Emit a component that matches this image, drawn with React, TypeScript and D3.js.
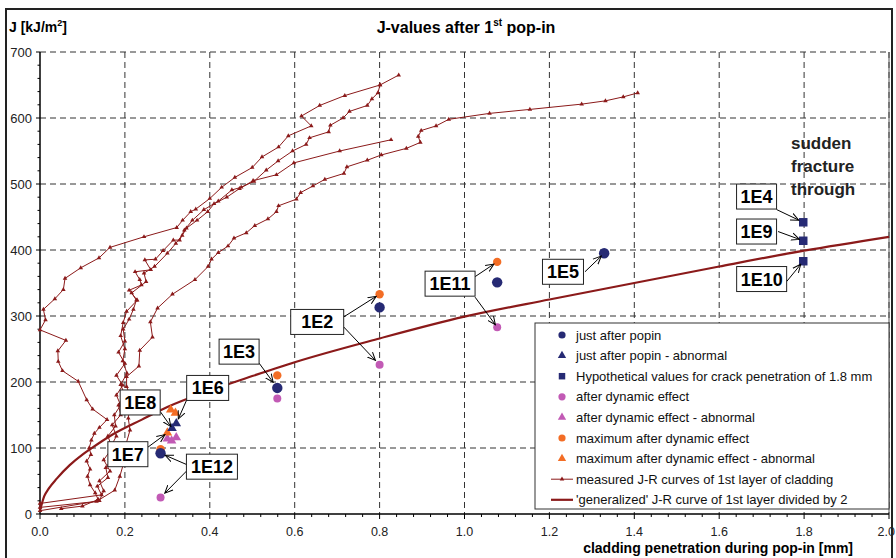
import React from "react";
import * as d3 from "d3";

const W = 896;
const H = 558;

// measured J-R curves of 1st layer of cladding: [penetration mm, J kJ/m2]
const jrCurveA: [number, number][] = [
  [0.05, 8], [0.1, 12], [0.137, 22], [0.13, 32], [0.118, 44], [0.112, 57], [0.118, 68], [0.11, 80],
  [0.12, 90], [0.116, 100], [0.121, 112], [0.128, 122], [0.14, 131], [0.158, 143], [0.124, 159],
  [0.11, 173], [0.09, 201], [0.053, 217], [0.043, 231], [0.042, 247], [0.061, 263], [0, 279],
  [0.013, 294], [0.008, 310], [0.035, 326], [0.055, 340], [0.059, 357], [0.096, 373], [0.139, 388],
  [0.165, 404], [0.245, 420], [0.322, 434], [0.336, 445], [0.355, 458], [0.367, 462], [0.4, 478],
  [0.428, 495], [0.459, 510], [0.5, 525], [0.523, 541], [0.562, 556], [0.585, 573], [0.639, 588],
  [0.616, 603], [0.659, 619], [0.718, 634], [0.801, 650], [0.845, 665],
];
const jrCurveB: [number, number][] = [
  [0, 16], [0.145, 29], [0.135, 42], [0.16, 55], [0.155, 70], [0.17, 85], [0.165, 100], [0.18, 118],
  [0.17, 135], [0.19, 150], [0.185, 165], [0.2, 180], [0.19, 196], [0.205, 213], [0.195, 232],
  [0.2, 250], [0.19, 270], [0.196, 290], [0.204, 307], [0.229, 324], [0.21, 339], [0.239, 347],
  [0.235, 355], [0.224, 367], [0.261, 370], [0.247, 385], [0.272, 386], [0.29, 399], [0.314, 415],
  [0.329, 415], [0.34, 430], [0.359, 445], [0.386, 461], [0.42, 474], [0.452, 491], [0.474, 495],
  [0.504, 504], [0.533, 521], [0.561, 535], [0.595, 550], [0.627, 560], [0.635, 570], [0.68, 579],
  [0.684, 589], [0.714, 600], [0.729, 610], [0.771, 619], [0.782, 629], [0.796, 638], [0.801, 650],
];
const jrCurveC: [number, number][] = [
  [0, 5], [0.14, 20], [0.15, 35], [0.14, 50], [0.165, 65], [0.15, 82], [0.17, 100], [0.16, 118],
  [0.178, 133], [0.175, 150], [0.19, 165], [0.18, 180], [0.195, 195], [0.18, 210], [0.2, 228],
  [0.185, 245], [0.2, 262], [0.196, 280], [0.21, 295], [0.22, 310], [0.227, 324], [0.216, 335],
  [0.25, 352], [0.245, 365], [0.27, 375], [0.3, 395], [0.32, 410], [0.335, 422], [0.345, 433],
  [0.37, 445], [0.395, 458], [0.41, 470], [0.44, 480], [0.47, 493], [0.502, 505], [0.557, 514],
  [0.598, 532], [0.706, 550], [0.827, 567],
];
const jrCurveD: [number, number][] = [
  [0, 10], [0.133, 19], [0.176, 36], [0.188, 57], [0.198, 79], [0.2, 100], [0.212, 127], [0.208, 145],
  [0.212, 165], [0.212, 180], [0.204, 193], [0.204, 208], [0.233, 224], [0.235, 248], [0.265, 268],
  [0.26, 291], [0.277, 312], [0.312, 333], [0.365, 355], [0.396, 375], [0.404, 386], [0.42, 396],
  [0.443, 406], [0.457, 418], [0.486, 426], [0.506, 437], [0.537, 447], [0.557, 458], [0.562, 467],
  [0.604, 477], [0.614, 487], [0.643, 497], [0.671, 507], [0.716, 516], [0.723, 526], [0.771, 536],
  [0.804, 544], [0.863, 554], [0.896, 563], [0.891, 572], [0.898, 581], [0.933, 588], [0.963, 598],
  [1.059, 607], [1.154, 613], [1.276, 621], [1.332, 626], [1.374, 632], [1.408, 638],
];
const measuredCurves = [jrCurveA, jrCurveB, jrCurveC, jrCurveD];

// 'generalized' J-R curve of 1st layer divided by 2
const generalizedJR: [number, number][] = [
  [0, 5], [0.01, 27], [0.02, 38], [0.04, 54], [0.07, 74], [0.1, 90], [0.12, 99], [0.17, 120],
  [0.24, 143], [0.3, 162], [0.4, 187], [0.5, 209], [0.6, 230], [0.8, 266], [1.0, 299], [1.2, 325],
  [1.4, 350], [1.6, 375], [1.8, 399], [2.0, 420],
];

// test results
const justAfterPopin: [number, number][] = [[0.284, 92], [0.559, 191], [0.8, 313], [1.077, 351], [1.329, 395]];
const justAfterPopinAbn: [number, number][] = [[0.311, 130], [0.321, 137]];
const hypothetical: [number, number][] = [[1.798, 442], [1.798, 414], [1.798, 383]];
const afterDynamic: [number, number][] = [[0.284, 25], [0.559, 175], [0.8, 226], [1.077, 283]];
const afterDynamicAbn: [number, number][] = [[0.3, 114], [0.31, 111], [0.321, 116]];
const maxAfterDynamic: [number, number][] = [[0.284, 98], [0.559, 210], [0.8, 333], [1.077, 382]];
const maxAfterDynamicAbn: [number, number][] = [[0.3, 123], [0.308, 158], [0.319, 153]];

const xTicks = [0, 0.2, 0.4, 0.6, 0.8, 1.0, 1.2, 1.4, 1.6, 1.8, 2.0];
const yTicks = [0, 100, 200, 300, 400, 500, 600, 700];

const NAVY = "#262a74";
const PINK = "#c25ab5";
const ORANGE = "#f36d25";
const RED = "#8b1a1a";
const FONT = "Arial, 'Liberation Sans', sans-serif";

// specimen labels: box centre in data units, arrows from box (px offset) to a data point
const labels = [
  { name: "1E12", at: [0.405, 71.7], w: 51, arrows: [{ from: [-25, -2], to: [0.284, 92], gap: 5 }, { from: [-25, 4], to: [0.284, 25], gap: 6 }] },
  { name: "1E7", at: [0.207, 90.6], w: 40, arrows: [{ from: [20, -7], to: [0.3, 123], gap: 3 }] },
  { name: "1E8", at: [0.236, 169], w: 40, arrows: [{ from: [20, 9], to: [0.311, 130], gap: 2 }] },
  { name: "1E6", at: [0.395, 191], w: 42, arrows: [{ from: [-21, 12], to: [0.321, 137], gap: 5 }] },
  { name: "1E3", at: [0.469, 246], w: 40, arrows: [{ from: [20, 11.5], to: [0.559, 191], gap: 7 }] },
  { name: "1E2", at: [0.653, 291], w: 53, arrows: [{ from: [26.5, -5], to: [0.8, 333], gap: 4 }, { from: [26.5, 5], to: [0.8, 226], gap: 6 }] },
  { name: "1E11", at: [0.966, 349], w: 50, arrows: [{ from: [25, -7], to: [1.077, 382], gap: 4 }, { from: [25, 13.5], to: [1.077, 283], gap: 3 }] },
  { name: "1E5", at: [1.232, 367], w: 41, arrows: [{ from: [22, 0], to: [1.329, 395], gap: 4 }] },
  { name: "1E4", at: [1.688, 481], w: 40, arrows: [{ from: [20, 13], to: [1.798, 442], gap: 5 }] },
  { name: "1E9", at: [1.688, 428], w: 40, arrows: [{ from: [21.5, 0], to: [1.798, 414], gap: 4 }] },
  { name: "1E10", at: [1.7, 356], w: 50, arrows: [{ from: [25, 2.5], to: [1.798, 383], gap: 4 }] },
];

const legendItems = [
  { label: "just after popin", kind: "circle", color: NAVY },
  { label: "just after popin - abnormal", kind: "triangle", color: NAVY },
  { label: "Hypothetical values for crack penetration of 1.8 mm", kind: "square", color: NAVY },
  { label: "after dynamic effect", kind: "circle", color: PINK },
  { label: "after dynamic effect - abnormal", kind: "triangle", color: PINK },
  { label: "maximum after dynamic effect", kind: "circle", color: ORANGE },
  { label: "maximum after dynamic effect - abnormal", kind: "triangle", color: ORANGE },
  { label: "measured J-R curves of 1st layer of cladding", kind: "measured", color: RED },
  { label: "'generalized' J-R curve of 1st layer divided by 2", kind: "generalized", color: RED },
];

export default function App() {
  const x = d3.scaleLinear().domain([0, 2]).range([40, 889]);
  const y = d3.scaleLinear().domain([0, 700]).range([514, 52]);
  const line = d3.line<[number, number]>().x(d => x(d[0])).y(d => y(d[1]));
  const smooth = d3.line<[number, number]>().x(d => x(d[0])).y(d => y(d[1])).curve(d3.curveMonotoneX);
  const tri = (s: number) => d3.symbol(d3.symbolTriangle, s)()!;
  const sq = (s: number) => d3.symbol(d3.symbolSquare, s)()!;

  const xMinor = d3.range(0, 2.0001, 0.04);
  const yMinor = d3.range(0, 700.1, 20);

  const circles = (pts: [number, number][], r: number, c: string) =>
    pts.map((p, i) => <circle key={i} cx={x(p[0])} cy={y(p[1])} r={r} fill={c} />);
  const triangles = (pts: [number, number][], s: number, c: string) =>
    pts.map((p, i) => <path key={i} d={tri(s)} transform={`translate(${x(p[0])},${y(p[1])})`} fill={c} />);

  return (
    <svg width={W} height={H} style={{ position: "absolute", left: 0, top: 0, background: "#fff" }} fontFamily={FONT}>
      <defs>
        <marker id="arr" viewBox="0 0 10 10" refX="9" refY="5" markerWidth="9" markerHeight="9" orient="auto" markerUnits="userSpaceOnUse">
          <path d="M0,1 L9,5 L0,9" fill="none" stroke="#000" strokeWidth="1.1" />
        </marker>
      </defs>
      <rect x={6} y={9} width={886} height={570} fill="#fff" stroke="#222" strokeWidth={2} />

      {/* grid */}
      {xTicks.slice(1).map(t => (
        <line key={"gx" + t} x1={x(t)} x2={x(t)} y1={y(700)} y2={y(0)} stroke="#333" strokeDasharray="6,4" />
      ))}
      {yTicks.slice(1).map(t => (
        <line key={"gy" + t} x1={x(0)} x2={x(2)} y1={y(t)} y2={y(t)} stroke="#333" strokeDasharray="6,4" />
      ))}
      <line x1={x(2)} x2={x(2)} y1={y(700)} y2={y(0)} stroke="#555" />

      {/* axes */}
      <line x1={x(0)} x2={x(0)} y1={y(700)} y2={y(0)} stroke="#000" strokeWidth={1.5} />
      <line x1={x(0)} x2={x(2)} y1={y(0)} y2={y(0)} stroke="#000" strokeWidth={1.5} />
      {yMinor.map(t => (
        <line key={"ym" + t} x1={x(0) - (t % 100 === 0 ? 4 : 2.5)} x2={x(0)} y1={y(t)} y2={y(t)} stroke="#000" />
      ))}
      {xMinor.map(t => (
        <line key={"xm" + t} x1={x(t)} x2={x(t)} y1={y(0)} y2={y(0) + (Math.abs(t / 0.2 - Math.round(t / 0.2)) < 1e-6 ? 5 : 3)} stroke="#000" />
      ))}
      {yTicks.map(t => (
        <text key={"yl" + t} x={32} y={y(t) + 4.5} textAnchor="end" fontSize={13} fill="#222">{t}</text>
      ))}
      {xTicks.map((t, i) => (
        <text key={"xl" + t} x={i === xTicks.length - 1 ? 895 : x(t)} y={536} textAnchor={i === xTicks.length - 1 ? "end" : "middle"} fontSize={12.5} fill="#222">{d3.format(".1f")(t)}</text>
      ))}

      {/* titles */}
      <text x={9} y={32} fontSize={14} fontWeight="bold">J [kJ/m<tspan dy={-6} fontSize={9}>2</tspan><tspan dy={6}>]</tspan></text>
      <text x={466} y={33} textAnchor="middle" fontSize={16} fontWeight="bold">
        J-values after 1<tspan dy={-7} fontSize={10}>st</tspan><tspan dy={7}> pop-in</tspan>
      </text>
      <text x={853} y={553} textAnchor="end" fontSize={14} fontWeight="bold">cladding penetration during pop-in [mm]</text>

      {/* curves */}
      {measuredCurves.map((c, i) => (
        <g key={"mc" + i}>
          <path d={line(c)!} fill="none" stroke={RED} strokeWidth={1} />
          {c.map((p, j) => (
            <path key={j} d={tri(9)} transform={`translate(${x(p[0])},${y(p[1])})`} fill={RED} />
          ))}
        </g>
      ))}
      <path d={smooth(generalizedJR)!} fill="none" stroke={RED} strokeWidth={2.2} />

      {/* points */}
      {circles(afterDynamic, 4, PINK)}
      {circles(maxAfterDynamic, 4.2, ORANGE)}
      {circles(justAfterPopin, 5.2, NAVY)}
      {triangles(afterDynamicAbn, 40, PINK)}
      {triangles(maxAfterDynamicAbn, 40, ORANGE)}
      {triangles(justAfterPopinAbn, 40, NAVY)}
      {hypothetical.map((p, i) => (
        <path key={i} d={sq(72)} transform={`translate(${x(p[0])},${y(p[1])})`} fill={NAVY} />
      ))}

      {/* labels */}
      {labels.map(l => {
        const cx = x(l.at[0]);
        const cy = y(l.at[1]);
        return (
          <g key={l.name}>
            {l.arrows.map((a, i) => {
              const sx = cx + a.from[0];
              const sy = cy + a.from[1];
              const tx = x(a.to[0]);
              const ty = y(a.to[1]);
              const len = Math.hypot(tx - sx, ty - sy);
              const ex = tx - ((tx - sx) / len) * a.gap;
              const ey = ty - ((ty - sy) / len) * a.gap;
              return <line key={i} x1={sx} y1={sy} x2={ex} y2={ey} stroke="#000" strokeWidth={1} markerEnd="url(#arr)" />;
            })}
            <rect x={cx - l.w / 2} y={cy - 12.5} width={l.w} height={25} fill="#fff" stroke="#222" strokeWidth={1} />
            <text x={cx} y={cy + 6.5} textAnchor="middle" fontSize={18} fontWeight="bold">{l.name}</text>
          </g>
        );
      })}

      <text fontSize={17} fontWeight="bold" fill="#222">
        <tspan x={791} y={149}>sudden</tspan>
        <tspan x={791} y={172}>fracture</tspan>
        <tspan x={791} y={195}>through</tspan>
      </text>

      {/* legend */}
      <g transform="translate(535,323)">
        <rect x={0} y={0} width={354} height={186} fill="#fff" stroke="#333" strokeWidth={1} />
        {legendItems.map((it, i) => {
          const cy = 12 + i * 20.6;
          let sym: React.ReactNode = null;
          if (it.kind === "circle") sym = <circle cx={27} cy={cy} r={3.6} fill={it.color} />;
          else if (it.kind === "triangle") sym = <path d={tri(30)} transform={`translate(27,${cy})`} fill={it.color} />;
          else if (it.kind === "square") sym = <path d={sq(42)} transform={`translate(27,${cy})`} fill={it.color} />;
          else if (it.kind === "measured")
            sym = (
              <g>
                <line x1={16} x2={38} y1={cy} y2={cy} stroke={it.color} strokeWidth={1} />
                <path d={tri(9)} transform={`translate(27,${cy})`} fill={it.color} />
              </g>
            );
          else sym = <line x1={16} x2={38} y1={cy} y2={cy} stroke={it.color} strokeWidth={2.2} />;
          return (
            <g key={it.label}>
              {sym}
              <text x={41} y={cy + 4.5} fontSize={13} fill="#111">{it.label}</text>
            </g>
          );
        })}
      </g>
    </svg>
  );
}
